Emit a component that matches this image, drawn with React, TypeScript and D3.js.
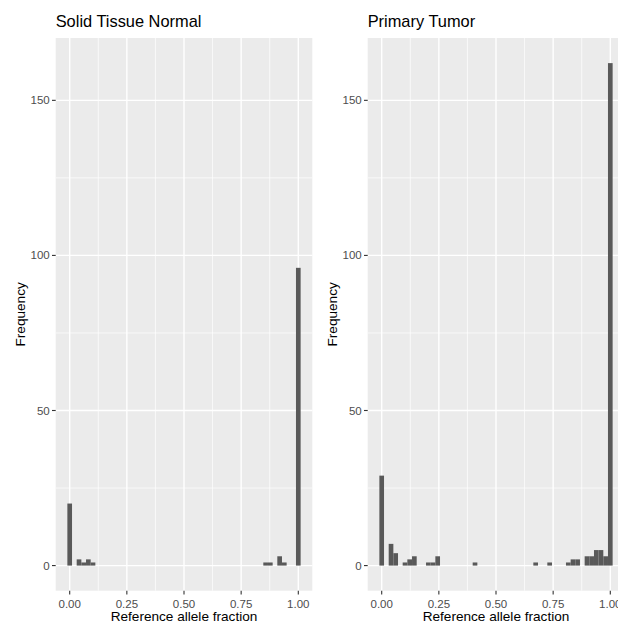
import React, { useEffect, useRef } from "react";
import * as d3 from "d3";

// bin centres (50 bins over 0..1) and their counts
const normalFraction = [0, 0.0408, 0.0612, 0.0816, 0.102, 0.8571, 0.8776, 0.9184, 0.9388, 1];
const normalCount = [20, 2, 1, 2, 1, 1, 1, 3, 1, 96];

const tumorFraction = [
  0, 0.0408, 0.0612, 0.102, 0.1224, 0.1429, 0.2041, 0.2245, 0.2449, 0.4082, 0.6735,
  0.7347, 0.8163, 0.8367, 0.8571, 0.898, 0.9184, 0.9388, 0.9592, 0.9796, 1,
];
const tumorCount = [29, 7, 4, 1, 2, 3, 1, 1, 3, 1, 1, 1, 1, 2, 2, 3, 3, 5, 5, 3, 162];

const xTicks = [0, 0.25, 0.5, 0.75, 1];
const xTickLabels = ["0.00", "0.25", "0.50", "0.75", "1.00"];
const yTicks = [0, 50, 100, 150];
const panelTitles = ["Solid Tissue Normal", "Primary Tumor"];

const binWidth = 1 / 49;
const font = "'Liberation Sans', Arial, sans-serif";

export default function App() {
  const ref = useRef<SVGSVGElement>(null);

  useEffect(() => {
    const svg = d3.select(ref.current);
    svg.selectAll("*").remove();

    const width = 618,
      height = 624;
    const top = 38,
      bottom = 590.7,
      panelW = 256.6;
    const lefts = [55.7, 367.7];
    const panels = [
      { fr: normalFraction, n: normalCount },
      { fr: tumorFraction, n: tumorCount },
    ];

    svg.attr("width", width).attr("height", height);
    svg.append("rect").attr("width", width).attr("height", height).attr("fill", "#fff");

    const lo = -binWidth / 2,
      hi = 1 + binWidth / 2;
    const pad = (hi - lo) * 0.05;
    const yMax = 162;
    const y = d3
      .scaleLinear()
      .domain([-yMax * 0.05, yMax * 1.05])
      .range([bottom, top]);

    panels.forEach((p, i) => {
      const left = lefts[i];
      const x = d3
        .scaleLinear()
        .domain([lo - pad, hi + pad])
        .range([left, left + panelW]);

      const g = svg.append("g");
      g.append("rect")
        .attr("x", left)
        .attr("y", top)
        .attr("width", panelW)
        .attr("height", bottom - top)
        .attr("fill", "#ebebeb");

      const xMinor = [0.125, 0.375, 0.625, 0.875];
      const yMinor = [25, 75, 125];
      g.selectAll(".xminor")
        .data(xMinor)
        .enter()
        .append("line")
        .attr("x1", (d) => x(d))
        .attr("x2", (d) => x(d))
        .attr("y1", top)
        .attr("y2", bottom)
        .attr("stroke", "#fff")
        .attr("stroke-width", 0.7);
      g.selectAll(".yminor")
        .data(yMinor)
        .enter()
        .append("line")
        .attr("x1", left)
        .attr("x2", left + panelW)
        .attr("y1", (d) => y(d))
        .attr("y2", (d) => y(d))
        .attr("stroke", "#fff")
        .attr("stroke-width", 0.7);
      g.selectAll(".xmajor")
        .data(xTicks)
        .enter()
        .append("line")
        .attr("x1", (d) => x(d))
        .attr("x2", (d) => x(d))
        .attr("y1", top)
        .attr("y2", bottom)
        .attr("stroke", "#fff")
        .attr("stroke-width", 1.4);
      g.selectAll(".ymajor")
        .data(yTicks)
        .enter()
        .append("line")
        .attr("x1", left)
        .attr("x2", left + panelW)
        .attr("y1", (d) => y(d))
        .attr("y2", (d) => y(d))
        .attr("stroke", "#fff")
        .attr("stroke-width", 1.4);

      // bars
      g.selectAll(".bar")
        .data(p.fr)
        .enter()
        .append("rect")
        .attr("x", (d) => x(d - binWidth / 2))
        .attr("width", (d) => x(d + binWidth / 2) - x(d - binWidth / 2))
        .attr("y", (d, j) => y(p.n[j]))
        .attr("height", (d, j) => y(0) - y(p.n[j]))
        .attr("fill", "#595959");

      // x ticks
      xTicks.forEach((t, j) => {
        g.append("line")
          .attr("x1", x(t))
          .attr("x2", x(t))
          .attr("y1", bottom)
          .attr("y2", bottom + 3.7)
          .attr("stroke", "#333")
          .attr("stroke-width", 1.1);
        g.append("text")
          .attr("x", x(t))
          .attr("y", bottom + 17)
          .attr("text-anchor", "middle")
          .attr("font-family", font)
          .attr("font-size", 11.5)
          .attr("fill", "#4d4d4d")
          .text(xTickLabels[j]);
      });

      // y ticks
      yTicks.forEach((t) => {
        g.append("line")
          .attr("x1", left - 3.7)
          .attr("x2", left)
          .attr("y1", y(t))
          .attr("y2", y(t))
          .attr("stroke", "#333")
          .attr("stroke-width", 1.1);
        g.append("text")
          .attr("x", left - 6)
          .attr("y", y(t))
          .attr("dy", "0.35em")
          .attr("text-anchor", "end")
          .attr("font-family", font)
          .attr("font-size", 11.5)
          .attr("fill", "#4d4d4d")
          .text(t);
      });

      g.append("text")
        .attr("x", left + panelW / 2)
        .attr("y", 621)
        .attr("text-anchor", "middle")
        .attr("font-family", font)
        .attr("font-size", 13.6)
        .attr("fill", "#000")
        .text("Reference allele fraction");

      g.append("text")
        .attr("transform", "translate(" + (left - 31) + "," + (top + bottom) / 2 + ") rotate(-90)")
        .attr("text-anchor", "middle")
        .attr("font-family", font)
        .attr("font-size", 13.6)
        .attr("fill", "#000")
        .text("Frequency");

      g.append("text")
        .attr("x", left)
        .attr("y", 27)
        .attr("font-family", font)
        .attr("font-size", 16.4)
        .attr("fill", "#000")
        .text(panelTitles[i]);
    });
  }, []);

  return (
    <div style={{ position: "absolute", left: 0, top: 0 }}>
      <svg ref={ref} style={{ display: "block" }} />
    </div>
  );
}
